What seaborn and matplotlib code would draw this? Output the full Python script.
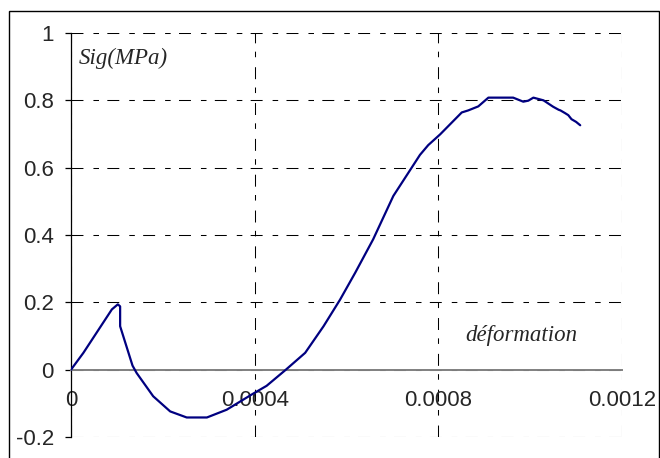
import matplotlib
matplotlib.use("Agg")
import matplotlib.pyplot as plt
import pandas as pd
import seaborn as sns
from matplotlib.patches import Rectangle

# strain / stress curve
strain = [0, 2.7e-5, 8.9e-5, 1.02e-4, 1.07e-4, 1.07e-4, 1.34e-4, 1.43e-4,
          1.79e-4, 2.16e-4, 2.52e-4, 2.96e-4, 3.39e-4, 3.97e-4, 4.26e-4,
          4.68e-4, 5.10e-4, 5.50e-4, 5.86e-4, 6.19e-4, 6.58e-4, 7.02e-4,
          7.60e-4, 7.78e-4, 8.04e-4, 8.51e-4, 8.65e-4, 8.87e-4, 9.09e-4,
          9.63e-4, 9.85e-4, 9.96e-4, 1.007e-3, 1.029e-3, 1.050e-3, 1.062e-3,
          1.066e-3, 1.076e-3, 1.083e-3, 1.090e-3, 1.100e-3, 1.109e-3]
stress = [0, 0.05, 0.179, 0.194, 0.188, 0.129, 0.012, -0.01,
          -0.079, -0.124, -0.142, -0.142, -0.119, -0.071, -0.048,
          0.0, 0.05, 0.129, 0.208, 0.288, 0.387, 0.516,
          0.638, 0.667, 0.699, 0.764, 0.770, 0.782, 0.808,
          0.808, 0.796, 0.799, 0.808, 0.800, 0.781, 0.772,
          0.770, 0.762, 0.756, 0.744, 0.736, 0.726]

x_ticks = [0, 0.0004, 0.0008, 0.0012]
x_labels = ["0", "0.0004", "0.0008", "0.0012"]
y_ticks = [-0.2, 0, 0.2, 0.4, 0.6, 0.8, 1.0]
y_labels = ["-0.2", "0", "0.2", "0.4", "0.6", "0.8", "1"]

df = pd.DataFrame({"strain": strain, "stress": stress})

sns.set_style("white")
plt.rcParams["font.family"] = ["Liberation Sans", "DejaVu Sans"]
plt.rcParams["lines.scale_dashes"] = False

fig = plt.figure(figsize=(6.6, 4.58), dpi=100)
fig.patches.append(Rectangle((9 / 660, -0.05), 650 / 660, 1.05 - 11 / 458,
                             transform=fig.transFigure, fill=False,
                             edgecolor="black", linewidth=1.0))
ax = fig.add_axes([71 / 660, 1 - 437 / 458, 551 / 660, 404 / 458])

sns.lineplot(data=df, x="strain", y="stress", sort=False, estimator=None,
             color="#000080", linewidth=1.6, ax=ax, zorder=3)

ax.set_xlim(0, 0.0012)
ax.set_ylim(-0.2, 1.0)
ax.set_xticks(x_ticks)
ax.set_xticklabels(x_labels)
ax.set_yticks(y_ticks)
ax.set_yticklabels(y_labels)
ax.set_xlabel("")
ax.set_ylabel("")

grid_dash = (0, (8.6, 7.2, 4.0, 6.0))
ax.grid(True, color="black", linewidth=0.75, linestyle=grid_dash)

ax.spines["top"].set_visible(False)
ax.spines["right"].set_visible(False)
ax.spines["left"].set_color("black")
ax.spines["left"].set_linewidth(0.9)
ax.spines["bottom"].set_position(("data", 0))
ax.spines["bottom"].set_color("#808080")
ax.spines["bottom"].set_linewidth(1.4)

ax.tick_params(axis="x", length=0, pad=15, labelsize=16)
ax.tick_params(axis="y", length=4.3, width=0.9, pad=8, labelsize=16,
               left=True, color="black")

ax.text(1.7e-5, 0.908, "Sig(MPa)", family="Liberation Serif", style="italic",
        fontsize=16.5, va="baseline", ha="left")
ax.text(8.58e-4, 0.085, "déformation", family="Liberation Serif",
        style="italic", fontsize=16.5, va="baseline", ha="left")

fig.savefig("out.png", dpi=100)
